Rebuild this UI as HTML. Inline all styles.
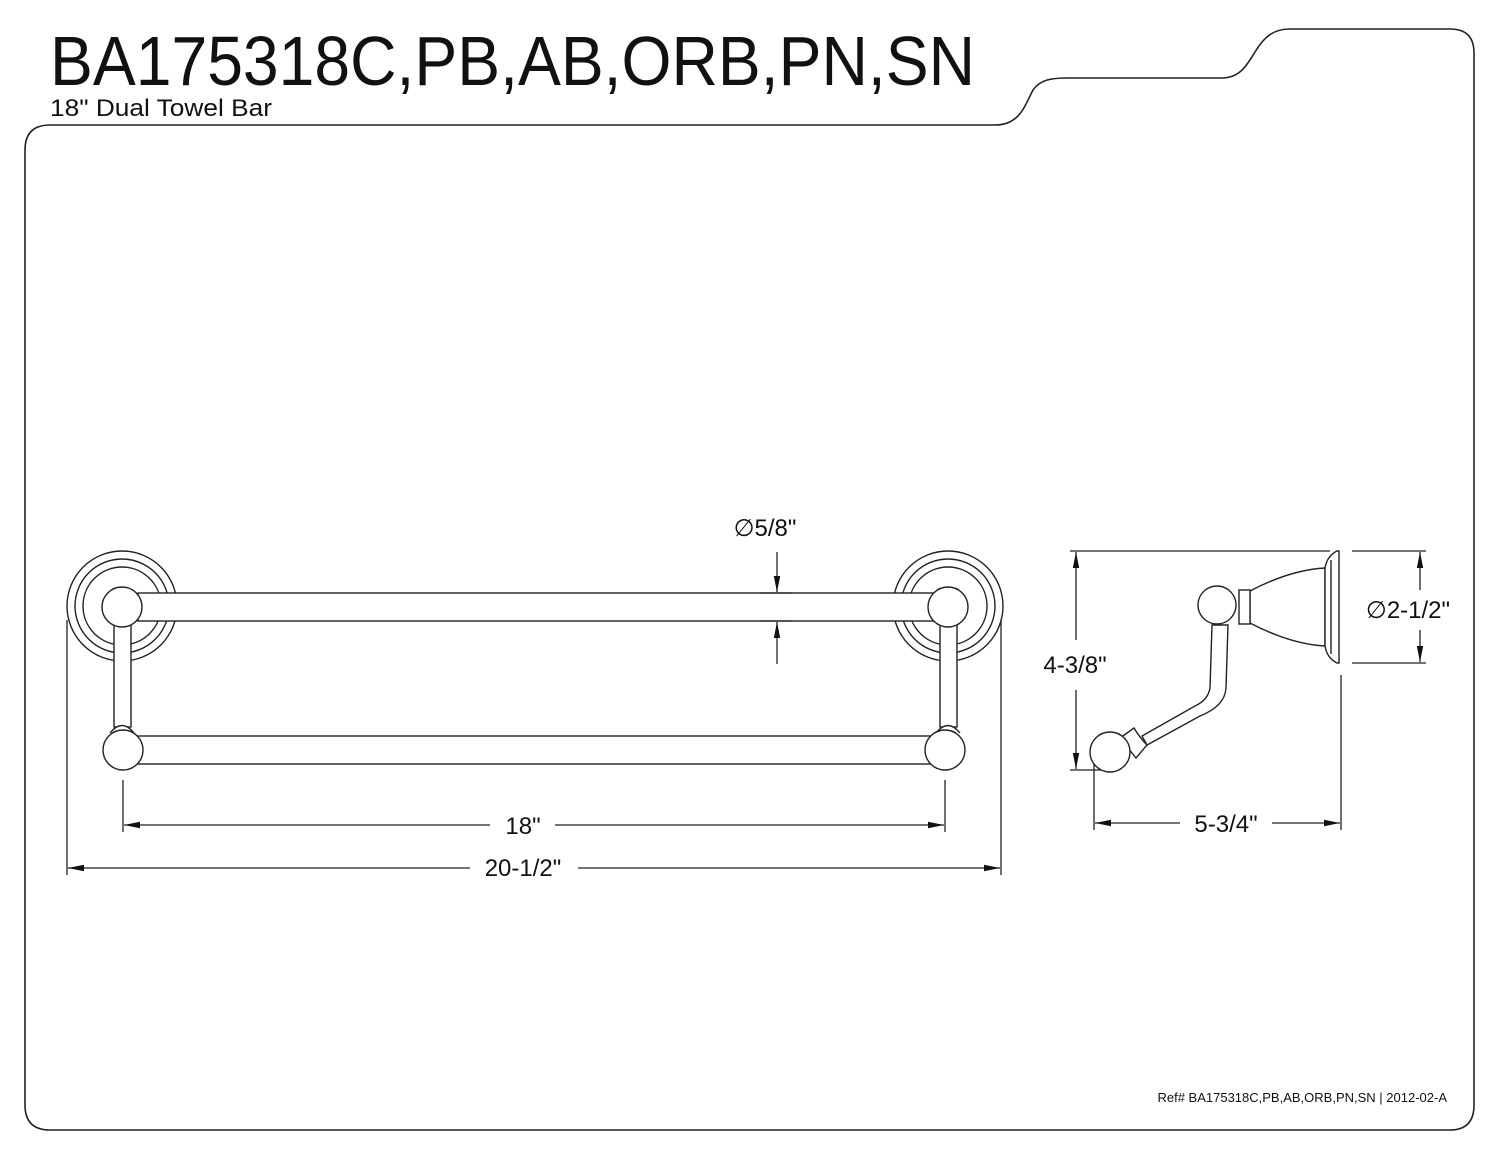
<!DOCTYPE html>
<html><head><meta charset="utf-8"><style>
html,body{margin:0;padding:0;background:#fff;}
svg{display:block;}
text{font-family:"Liberation Sans",sans-serif;fill:#111;}
</style></head><body>
<svg width="1500" height="1159" viewBox="0 0 1500 1159" xmlns="http://www.w3.org/2000/svg">
<defs>
<marker id="a" viewBox="0 0 16 8" refX="16" refY="4" markerWidth="16" markerHeight="8" markerUnits="userSpaceOnUse" orient="auto"><path d="M0,0.8 L16,4 L0,7.2 Z" fill="#111"/></marker>
</defs>
<g fill="none" stroke="#222" stroke-width="1.6">
<path d="M25,150 Q25,125 50,125 L995,125 C1020,125 1025,105 1033,90 C1040,80 1050,78 1068,78 L1222,78 C1240,78 1247,65 1255,52 C1265,35 1275,29 1290,29 L1450,29 Q1474,29 1474,53 L1474,1105 Q1474,1130 1450,1130 L50,1130 Q25,1130 25,1105 Z"/>
</g>
<text x="50" y="85" font-size="70" textLength="925" lengthAdjust="spacingAndGlyphs">BA175318C,PB,AB,ORB,PN,SN</text>
<text x="50" y="116" font-size="24" textLength="222" lengthAdjust="spacingAndGlyphs">18" Dual Towel Bar</text>
<text x="1447" y="1102" font-size="13" text-anchor="end">Ref# BA175318C,PB,AB,ORB,PN,SN | 2012-02-A</text>

<g fill="#fff" stroke="#222" stroke-width="1.4">
<circle cx="122" cy="606" r="55"/><circle cx="122" cy="606" r="47"/><circle cx="122" cy="606" r="39"/>
<circle cx="948" cy="606" r="55"/><circle cx="948" cy="606" r="47"/><circle cx="948" cy="606" r="39"/>
<rect x="114" y="622" width="17" height="105"/>
<rect x="940" y="622" width="17" height="105"/>
<rect x="138" y="593" width="795" height="28"/>
<circle cx="122" cy="607" r="20"/>
<circle cx="948" cy="607" r="20"/>
<rect x="137" y="736" width="795" height="28"/>
<path d="M110,733 Q122,718 134,733"/><path d="M936,733 Q948,718 960,733"/>
<circle cx="123" cy="750" r="20"/>
<circle cx="945" cy="750" r="20"/>
</g>
<g stroke="#222" stroke-width="1.3" fill="none">
<line x1="67" y1="620" x2="67" y2="875"/>
<line x1="1001" y1="620" x2="1001" y2="875"/>
<line x1="123" y1="780" x2="123" y2="832"/>
<line x1="945" y1="780" x2="945" y2="832"/>
<line x1="470" y1="868" x2="68" y2="868" marker-end="url(#a)"/>
<line x1="578" y1="868" x2="1000" y2="868" marker-end="url(#a)"/>
<line x1="490" y1="825" x2="124" y2="825" marker-end="url(#a)"/>
<line x1="555" y1="825" x2="944" y2="825" marker-end="url(#a)"/>
<line x1="777" y1="552" x2="777" y2="592" marker-end="url(#a)"/>
<line x1="777" y1="664" x2="777" y2="622" marker-end="url(#a)"/>
<line x1="760" y1="593" x2="792" y2="593"/>
<line x1="760" y1="621" x2="792" y2="621"/>
<line x1="1070" y1="551" x2="1330" y2="551"/>
<line x1="1070" y1="770" x2="1102" y2="770"/>
<line x1="1076" y1="640" x2="1076" y2="552" marker-end="url(#a)"/>
<line x1="1076" y1="690" x2="1076" y2="769" marker-end="url(#a)"/>
<line x1="1094" y1="762" x2="1094" y2="830"/>
<line x1="1341" y1="675" x2="1341" y2="830"/>
<line x1="1180" y1="823" x2="1095" y2="823" marker-end="url(#a)"/>
<line x1="1272" y1="823" x2="1340" y2="823" marker-end="url(#a)"/>
<line x1="1352" y1="551" x2="1426" y2="551"/>
<line x1="1352" y1="663" x2="1426" y2="663"/>
<line x1="1420" y1="590" x2="1420" y2="552" marker-end="url(#a)"/>
<line x1="1420" y1="630" x2="1420" y2="662" marker-end="url(#a)"/>
</g>
<g fill="#fff" stroke="#222" stroke-width="1.4">
<path d="M1212,625 L1210,688 Q1208,700 1195,706 L1142,736 L1147,745 L1200,716 Q1225,706 1226,688 L1228,625 Z"/>
<path d="M1250,591 Q1290,570 1325,568 L1325,646 Q1290,644 1250,623 Z"/>
<rect x="1239" y="590" width="11" height="34"/>
<path d="M1325,568 Q1327,556 1337,551 L1339,551 L1339,663 L1337,663 Q1327,658 1325,646 Z"/>
<line x1="1331" y1="560" x2="1331" y2="654"/>
<circle cx="1217" cy="605" r="19"/>
<path d="M1120,738 L1134,728 Q1140,738 1147,745 L1136,758 Z"/>
<circle cx="1110" cy="752" r="20"/>
</g>
<text x="765" y="536" font-size="24" text-anchor="middle">∅5/8"</text>
<text x="523" y="876" font-size="24" text-anchor="middle">20-1/2"</text>
<text x="523" y="834" font-size="24" text-anchor="middle">18"</text>
<text x="1075" y="673" font-size="24" text-anchor="middle">4-3/8"</text>
<text x="1226" y="832" font-size="24" text-anchor="middle">5-3/4"</text>
<text x="1408" y="618" font-size="24" text-anchor="middle">∅2-1/2"</text>
</svg>
</body></html>
